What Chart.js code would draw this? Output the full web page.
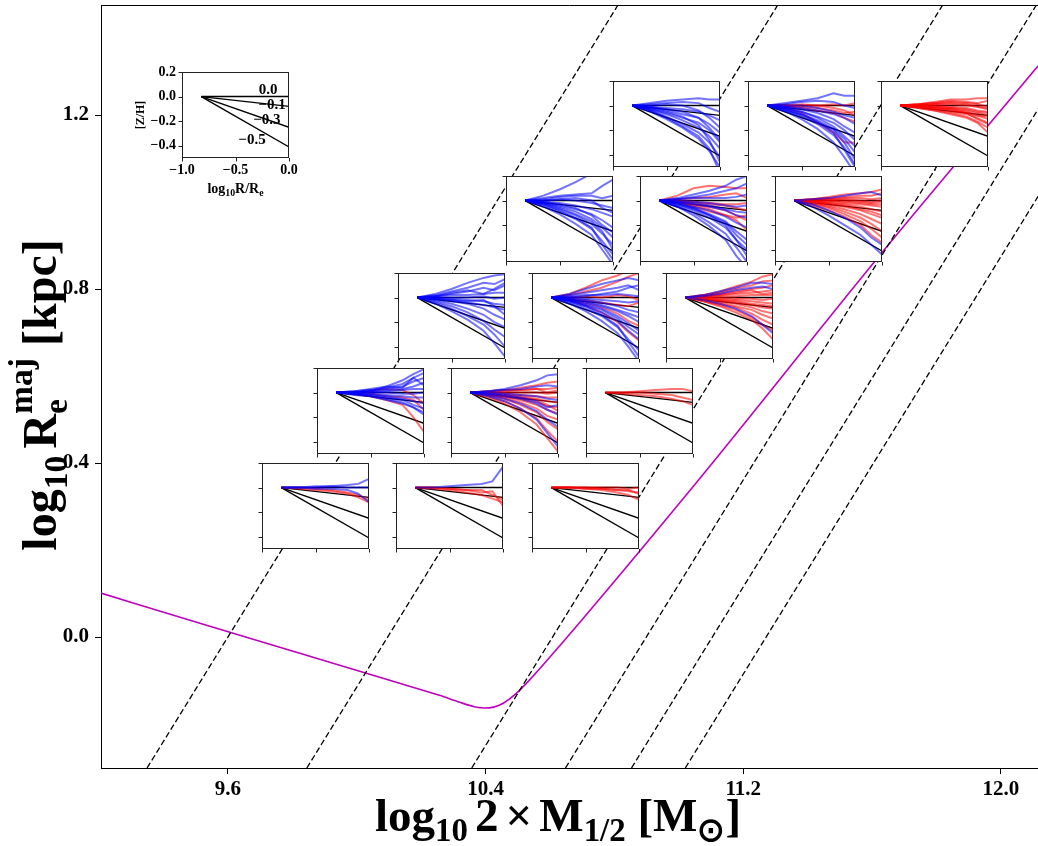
<!DOCTYPE html>
<html>
<head>
<meta charset="utf-8">
<script src="https://cdn.jsdelivr.net/npm/chart.js@4.4.0/dist/chart.umd.min.js"></script>
<style>
  body { margin: 0; background: #fff; }
  #wrap { position: relative; width: 1038px; height: 846px; }
  #wrap canvas.inset { position: absolute; }
</style>
</head>
<body>
<div id="wrap"><canvas id="main" width="1038" height="846"></canvas></div>
<script>
// main axes
const xLim = [9.206, 12.115];
const yLim = [-0.301, 1.453];
const xTicks = [9.6, 10.4, 11.2, 12.0];
const yTicks = [0.0, 0.4, 0.8, 1.2];

// dashed guide lines (x at bottom / top of the axes)
const dashBottomX = [9.349, 9.845, 10.357, 10.648, 10.853, 11.020];
const dashTopX = [10.811, 11.307, 11.819, 12.110, 12.315, 12.482];

// magenta curve
const curveX = [9.206, 9.513, 9.823, 10.133, 10.257, 10.320, 10.365, 10.397, 10.425, 10.455, 10.490, 10.536, 10.629, 11.063, 11.622, 12.115];
const curveY = [0.101, 0.032, -0.037, -0.106, -0.134, -0.150, -0.160, -0.163, -0.161, -0.152, -0.133, -0.099, -0.021, 0.363, 0.876, 1.313];

// inset panels: bin centres (mass, size)
const panelMass = [10.963, 11.380, 11.795, 10.629, 11.047, 11.464, 10.295, 10.710, 11.127, 10.042, 10.460, 10.878, 9.873, 10.288, 10.710];
const panelSize = [1.179, 1.179, 1.179, 0.960, 0.960, 0.960, 0.739, 0.739, 0.739, 0.520, 0.520, 0.520, 0.301, 0.301, 0.301];

// inset axes
const profR = [-0.82, -0.65, -0.5, -0.35, -0.2, -0.1, 0.0];
const insetXTicks = [-1.0, -0.5, 0.0];
const insetYTicks = [0.2, 0.0, -0.2, -0.4];
const refEnds = [0.0, -0.08, -0.25, -0.41];
const refLabels = ['0.0', '\u22120.1', '\u22120.3', '\u22120.5'];
const refLabelX = [-0.196, -0.159, -0.206, -0.346];
const refLabelY = [0.053, -0.069, -0.191, -0.353];

// [Z/H] profiles, values after the first point (which is 0)
const blue11 = [
  [0.02, 0.04, 0.05, 0.06, 0.05, 0.05], [0.01, 0.02, 0.03, 0.02, -0.02, -0.05],
  [-0.01, -0.02, -0.03, -0.05, -0.08, -0.12], [-0.02, -0.04, -0.07, -0.10, -0.15, -0.22],
  [-0.03, -0.06, -0.10, -0.14, -0.20, -0.30], [-0.03, -0.07, -0.12, -0.18, -0.25, -0.35],
  [-0.04, -0.09, -0.15, -0.22, -0.30, -0.42], [-0.05, -0.11, -0.18, -0.27, -0.37, -0.50],
  [-0.02, -0.05, -0.09, -0.16, -0.28, -0.46], [-0.01, -0.03, -0.05, -0.10, -0.18, -0.28],
  [0.00, 0.01, 0.00, -0.04, -0.10, -0.18], [-0.04, -0.10, -0.17, -0.25, -0.35, -0.55]
];
const red11 = [];
const blue12 = [
  [0.02, 0.04, 0.06, 0.10, 0.08, 0.08], [0.01, 0.03, 0.04, 0.03, 0.00, -0.02],
  [-0.01, -0.02, -0.04, -0.07, -0.10, -0.15], [-0.02, -0.05, -0.09, -0.14, -0.20, -0.28],
  [-0.03, -0.07, -0.12, -0.19, -0.27, -0.38], [-0.04, -0.09, -0.15, -0.24, -0.34, -0.48],
  [-0.05, -0.11, -0.19, -0.30, -0.42, -0.55], [-0.02, -0.05, -0.10, -0.17, -0.25, -0.33],
  [-0.01, -0.03, -0.06, -0.11, -0.17, -0.22], [-0.03, -0.07, -0.13, -0.22, -0.36, -0.50],
  [0.00, 0.00, -0.02, -0.05, -0.08, -0.10], [-0.04, -0.08, -0.14, -0.20, -0.30, -0.44]
];
const red12 = [
  [0.00, 0.00, 0.00, 0.01, 0.00, 0.02], [0.00, -0.01, -0.02, -0.04, -0.06, -0.05],
  [-0.02, -0.06, -0.14, -0.22, -0.30, -0.30], [0.00, -0.02, -0.04, -0.06, -0.10, -0.13],
  [0.00, 0.01, 0.00, -0.02, -0.04, -0.08]
];
const blue13 = [];
const red13 = [
  [0.01, 0.03, 0.05, 0.05, 0.06, 0.06], [0.01, 0.02, 0.04, 0.03, 0.02, 0.04],
  [0.00, 0.01, 0.01, 0.00, -0.01, -0.02], [0.00, 0.00, -0.01, -0.02, -0.04, -0.05],
  [-0.01, -0.01, -0.02, -0.04, -0.06, -0.08], [-0.01, -0.02, -0.03, -0.05, -0.08, -0.11],
  [-0.01, -0.03, -0.05, -0.07, -0.10, -0.14], [-0.02, -0.04, -0.06, -0.09, -0.13, -0.18],
  [-0.02, -0.04, -0.07, -0.10, -0.14, -0.22], [0.00, 0.01, 0.02, 0.01, -0.01, -0.03],
  [-0.01, -0.02, -0.04, -0.06, -0.08, -0.09], [0.00, -0.01, -0.02, -0.03, -0.05, -0.06],
  [0.01, 0.02, 0.03, 0.02, 0.01, -0.01], [-0.01, -0.02, -0.03, -0.06, -0.11, -0.15]
];
const blue21 = [
  [0.04, 0.09, 0.15, 0.22, 0.28, 0.32], [0.02, 0.04, 0.05, 0.06, 0.12, 0.17],
  [0.01, 0.03, 0.04, 0.04, 0.02, 0.04], [0.00, 0.01, 0.00, -0.02, -0.04, -0.06],
  [-0.01, -0.02, -0.04, -0.07, -0.10, -0.13], [-0.02, -0.04, -0.07, -0.11, -0.16, -0.22],
  [-0.02, -0.05, -0.09, -0.15, -0.22, -0.30], [-0.03, -0.07, -0.12, -0.19, -0.27, -0.36],
  [-0.04, -0.09, -0.15, -0.23, -0.33, -0.44], [-0.05, -0.11, -0.19, -0.28, -0.40, -0.52],
  [-0.03, -0.08, -0.14, -0.22, -0.36, -0.48], [-0.01, -0.03, -0.06, -0.12, -0.20, -0.26],
  [0.00, 0.01, 0.02, 0.00, -0.06, -0.10], [-0.02, -0.06, -0.11, -0.17, -0.25, -0.40]
];
const red21 = [];
const blue22 = [
  [0.02, 0.05, 0.08, 0.12, 0.17, 0.20], [0.01, 0.03, 0.05, 0.08, 0.10, 0.14],
  [0.01, 0.02, 0.02, 0.02, 0.03, 0.05], [0.00, -0.01, -0.02, -0.04, -0.05, -0.04],
  [-0.01, -0.03, -0.05, -0.08, -0.12, -0.14], [-0.02, -0.05, -0.08, -0.13, -0.18, -0.22],
  [-0.03, -0.06, -0.11, -0.17, -0.25, -0.32], [-0.04, -0.08, -0.14, -0.22, -0.32, -0.40],
  [-0.05, -0.10, -0.18, -0.27, -0.38, -0.50], [-0.05, -0.12, -0.21, -0.32, -0.45, -0.55],
  [-0.02, -0.06, -0.12, -0.20, -0.32, -0.45], [-0.01, -0.02, -0.04, -0.07, -0.09, -0.10],
  [-0.03, -0.07, -0.12, -0.18, -0.28, -0.36]
];
const red22 = [
  [0.04, 0.10, 0.12, 0.11, 0.10, 0.10], [0.01, 0.02, 0.03, 0.05, 0.06, 0.02],
  [0.00, -0.02, -0.03, -0.04, -0.06, -0.08], [-0.01, -0.03, -0.05, -0.08, -0.12, -0.16],
  [-0.01, -0.04, -0.07, -0.12, -0.16, -0.24], [0.00, -0.01, -0.02, -0.03, -0.03, -0.02],
  [-0.02, -0.05, -0.09, -0.12, -0.14, -0.12]
];
const blue23 = [
  [0.01, 0.02, 0.04, 0.06, 0.07, 0.04], [-0.05, -0.12, -0.20, -0.28, -0.36, -0.44],
  [-0.03, -0.08, -0.14, -0.22, -0.30, -0.36]
];
const red23 = [
  [0.01, 0.03, 0.05, 0.06, 0.07, 0.09], [0.01, 0.02, 0.03, 0.04, 0.04, 0.06],
  [0.00, 0.01, 0.02, 0.02, 0.01, 0.02], [0.00, 0.00, 0.00, -0.01, -0.02, -0.01],
  [-0.01, -0.01, -0.02, -0.03, -0.04, -0.05], [-0.01, -0.02, -0.03, -0.05, -0.07, -0.09],
  [-0.01, -0.03, -0.05, -0.08, -0.11, -0.14], [-0.02, -0.04, -0.07, -0.11, -0.15, -0.19],
  [-0.02, -0.05, -0.09, -0.14, -0.19, -0.25], [-0.03, -0.06, -0.11, -0.17, -0.23, -0.30],
  [-0.04, -0.08, -0.13, -0.20, -0.28, -0.34], [0.00, 0.00, -0.01, -0.02, -0.03, -0.03],
  [-0.01, -0.02, -0.04, -0.07, -0.09, -0.12], [0.01, 0.01, 0.01, 0.00, -0.01, 0.00]
];
const blue31 = [
  [0.03, 0.07, 0.12, 0.16, 0.18, 0.19], [0.02, 0.05, 0.08, 0.12, 0.11, 0.15],
  [0.01, 0.03, 0.05, 0.08, 0.06, 0.10], [0.01, 0.02, 0.02, 0.03, 0.04, 0.04],
  [0.00, 0.00, 0.00, 0.01, -0.01, 0.00], [0.00, -0.01, -0.02, -0.03, -0.05, -0.06],
  [-0.01, -0.02, -0.04, -0.06, -0.08, -0.10], [-0.01, -0.03, -0.05, -0.09, -0.14, -0.18],
  [-0.02, -0.05, -0.09, -0.14, -0.20, -0.24], [-0.03, -0.07, -0.12, -0.19, -0.26, -0.32],
  [-0.04, -0.09, -0.15, -0.22, -0.30, -0.40], [0.01, 0.04, 0.06, 0.03, 0.07, 0.12],
  [-0.01, -0.02, -0.03, -0.02, -0.07, -0.14], [-0.05, -0.11, -0.18, -0.27, -0.37, -0.48]
];
const red31 = [];
const blue32 = [
  [0.03, 0.07, 0.11, 0.14, 0.16, 0.14], [0.02, 0.04, 0.06, 0.08, 0.10, 0.06],
  [0.01, 0.02, 0.02, 0.03, 0.02, 0.01], [0.00, -0.01, -0.02, -0.03, -0.04, -0.03],
  [-0.01, -0.02, -0.04, -0.07, -0.10, -0.12], [-0.02, -0.04, -0.07, -0.11, -0.15, -0.20],
  [-0.02, -0.05, -0.09, -0.15, -0.21, -0.27], [-0.03, -0.07, -0.12, -0.19, -0.27, -0.34],
  [-0.04, -0.09, -0.15, -0.24, -0.34, -0.43], [-0.05, -0.11, -0.19, -0.29, -0.40, -0.52],
  [-0.03, -0.07, -0.14, -0.23, -0.36, -0.48], [0.00, 0.01, 0.03, 0.05, 0.08, 0.10],
  [-0.01, -0.03, -0.06, -0.10, -0.13, -0.16], [-0.02, -0.06, -0.10, -0.17, -0.24, -0.30]
];
const red32 = [
  [0.03, 0.08, 0.14, 0.18, 0.22, 0.24], [0.02, 0.05, 0.08, 0.13, 0.17, 0.20],
  [0.00, 0.01, 0.00, 0.02, 0.01, -0.02], [-0.01, -0.02, -0.04, -0.06, -0.07, -0.04],
  [-0.02, -0.04, -0.08, -0.13, -0.19, -0.23], [-0.02, -0.06, -0.12, -0.20, -0.28, -0.35]
];
const blue33 = [
  [0.02, 0.05, 0.08, 0.12, 0.12, 0.11], [-0.02, -0.05, -0.09, -0.15, -0.22, -0.29],
  [0.01, 0.03, 0.06, 0.08, 0.09, 0.07]
];
const red33 = [
  [0.02, 0.05, 0.09, 0.13, 0.17, 0.19], [0.02, 0.04, 0.07, 0.10, 0.13, 0.14],
  [0.01, 0.03, 0.05, 0.07, 0.08, 0.10], [0.01, 0.02, 0.03, 0.04, 0.05, 0.06],
  [0.00, 0.01, 0.01, 0.02, 0.02, 0.02], [0.00, 0.00, -0.01, -0.01, -0.02, -0.01],
  [0.00, -0.01, -0.02, -0.03, -0.04, -0.05], [-0.01, -0.02, -0.04, -0.06, -0.08, -0.09],
  [-0.01, -0.03, -0.05, -0.08, -0.11, -0.13], [-0.02, -0.04, -0.07, -0.10, -0.14, -0.17],
  [-0.02, -0.05, -0.08, -0.13, -0.18, -0.22], [-0.03, -0.06, -0.10, -0.16, -0.22, -0.27],
  [-0.03, -0.07, -0.12, -0.18, -0.25, -0.34], [0.01, 0.02, 0.04, 0.06, 0.03, 0.04],
  [-0.01, -0.02, -0.03, -0.05, -0.06, -0.07]
];
const blue41 = [
  [0.01, 0.03, 0.05, 0.10, 0.15, 0.19], [0.01, 0.02, 0.04, 0.07, 0.12, 0.16],
  [0.00, 0.02, 0.03, 0.05, 0.09, 0.12], [0.00, 0.01, 0.02, 0.03, 0.05, 0.08],
  [0.00, 0.00, 0.01, 0.02, 0.03, 0.03], [0.00, 0.00, 0.00, -0.01, -0.01, 0.00],
  [-0.01, -0.01, -0.02, -0.03, -0.04, -0.04], [-0.01, -0.02, -0.03, -0.05, -0.07, -0.09],
  [-0.01, -0.02, -0.04, -0.06, -0.10, -0.13], [-0.02, -0.03, -0.06, -0.09, -0.12, -0.16],
  [0.00, 0.01, 0.05, 0.04, 0.12, 0.06], [-0.01, -0.03, -0.05, -0.08, -0.12, -0.18]
];
const red41 = [
  [0.00, 0.01, 0.03, 0.02, -0.02, -0.09], [-0.01, -0.03, -0.06, -0.10, -0.20, -0.32],
  [0.00, -0.01, -0.03, -0.04, -0.06, -0.14]
];
const blue42 = [
  [0.01, 0.03, 0.06, 0.10, 0.14, 0.15], [0.01, 0.02, 0.03, 0.05, 0.06, 0.05],
  [0.00, -0.01, -0.02, -0.03, -0.05, -0.06], [-0.01, -0.03, -0.05, -0.09, -0.14, -0.18],
  [-0.02, -0.05, -0.09, -0.15, -0.22, -0.28], [-0.03, -0.07, -0.13, -0.22, -0.33, -0.44],
  [-0.01, -0.02, -0.04, -0.07, -0.12, -0.10]
];
const red42 = [
  [0.01, 0.02, 0.04, 0.06, 0.08, 0.09], [0.01, 0.02, 0.02, 0.03, 0.03, 0.04],
  [0.00, 0.00, 0.00, 0.00, -0.01, 0.00], [0.00, -0.01, -0.02, -0.03, -0.04, -0.04],
  [-0.01, -0.02, -0.03, -0.05, -0.07, -0.08], [-0.01, -0.03, -0.05, -0.08, -0.11, -0.12],
  [-0.01, -0.03, -0.06, -0.10, -0.14, -0.17], [-0.02, -0.04, -0.08, -0.13, -0.19, -0.22],
  [-0.02, -0.05, -0.10, -0.16, -0.24, -0.30], [-0.03, -0.07, -0.13, -0.21, -0.31, -0.40],
  [-0.04, -0.09, -0.16, -0.26, -0.37, -0.48], [0.00, 0.01, 0.02, 0.03, 0.00, 0.02],
  [-0.01, -0.02, -0.04, -0.06, -0.10, -0.15]
];
const blue43 = [];
const red43 = [
  [0.00, 0.01, 0.02, 0.03, 0.03, 0.01], [0.00, 0.00, -0.01, -0.02, -0.04, -0.06],
  [-0.01, -0.02, -0.03, -0.05, -0.07, -0.10]
];
const blue51 = [
  [0.00, 0.00, 0.01, 0.02, 0.03, 0.07], [0.00, -0.01, -0.01, -0.02, -0.05, -0.12],
  [0.00, 0.01, 0.01, 0.00, 0.00, 0.00]
];
const red51 = [
  [-0.01, -0.02, -0.03, -0.05, -0.08, -0.12], [0.00, -0.01, -0.02, -0.04, -0.06, -0.10]
];
const blue52 = [[0.00, 0.01, 0.02, 0.03, 0.05, 0.17]];
const red52 = [
  [0.00, -0.01, -0.02, -0.04, -0.03, -0.15], [0.00, -0.01, -0.02, -0.02, -0.06, -0.10],
  [-0.01, -0.02, -0.04, -0.06, -0.09, -0.12]
];
const blue53 = [];
const red53 = [
  [0.00, 0.00, 0.00, 0.00, -0.01, 0.00], [0.00, -0.01, -0.01, -0.02, -0.03, -0.04],
  [0.00, -0.01, -0.02, -0.04, -0.06, -0.10], [0.00, 0.00, -0.01, -0.02, -0.02, -0.05]
];

const panelBlue = [blue11, blue12, blue13, blue21, blue22, blue23, blue31, blue32, blue33, blue41, blue42, blue43, blue51, blue52, blue53];
const panelRed = [red11, red12, red13, red21, red22, red23, red31, red32, red33, red41, red42, red43, red51, red52, red53];

const SERIF = '"Liberation Serif", "Times New Roman", serif';
const BOX_W = 107, BOX_H = 86;

// draw text with sub/superscripts, centred on x
function drawRich(ctx, parts, x, y, size) {
    let total = 0;
    parts.forEach(p => {
        ctx.font = `bold ${size * (p.s || 1)}px ${SERIF}`;
        p.w = ctx.measureText(p.t).width;
        if (p.sup) {
            p.w = Math.max(p.w, ctx.measureText(p.sup).width);
        }
        total += p.w + (p.gap || 0) * size;
    });
    let cx = x - total / 2;
    ctx.textAlign = 'left';
    ctx.textBaseline = 'alphabetic';
    parts.forEach(p => {
        ctx.font = `bold ${size * (p.s || 1)}px ${SERIF}`;
        ctx.fillText(p.t, cx, y + (p.dy || 0) * size);
        if (p.sup) ctx.fillText(p.sup, cx, y + p.supDy * size);
        cx += p.w + (p.gap || 0) * size;
    });
}

// main axes decorations: top spine and axis titles
const mainDecor = {
    id: 'mainDecor',
    afterDraw(chart) {
        const ctx = chart.ctx, a = chart.chartArea;
        ctx.save();
        ctx.strokeStyle = '#000';
        ctx.lineWidth = 1;
        ctx.beginPath();
        ctx.moveTo(a.left, a.top + 0.5);
        ctx.lineTo(a.right, a.top + 0.5);
        ctx.stroke();
        ctx.fillStyle = '#000';
        drawRich(ctx, [
            { t: 'log' }, { t: '10', s: 0.7, dy: 0.22, gap: 0.15 }, { t: '2', gap: 0.15 }, { t: '\u00d7', gap: 0.15 }, { t: 'M' },
            { t: '1/2', s: 0.7, dy: 0.22, gap: 0.25 }, { t: '[M' }, { t: '\u2299', s: 0.7, dy: 0.22 }, { t: ']' }
        ], 558, 831, 47);
        ctx.translate(56, 395);
        ctx.rotate(-Math.PI / 2);
        drawRich(ctx, [
            { t: 'log' }, { t: '10', s: 0.7, dy: 0.22, gap: 0.15 }, { t: 'R' },
            { t: 'e', s: 0.7, dy: 0.22, sup: 'maj', supDy: -0.5, gap: 0.25 }, { t: '[kpc]' }
        ], 0, 0, 48);
        ctx.restore();
    }
};

const mainDatasets = [];
dashBottomX.forEach((x0, i) => {
    mainDatasets.push({
        data: [{ x: x0, y: yLim[0] }, { x: dashTopX[i], y: yLim[1] }],
        borderColor: '#000', borderWidth: 1.3, borderDash: [6, 3],
        pointRadius: 0, clip: 0
    });
});
mainDatasets.push({
    data: curveX.map((x, i) => ({ x: x, y: curveY[i] })),
    borderColor: '#bf00bf', borderWidth: 1.6, pointRadius: 0,
    cubicInterpolationMode: 'monotone', clip: 0
});

const tickFont = { family: SERIF, size: 21, weight: 'bold' };

const mainChart = new Chart(document.getElementById('main'), {
    type: 'line',
    data: { datasets: mainDatasets },
    options: {
        responsive: false,
        animation: false,
        layout: { padding: { top: 5, left: 0, right: 0, bottom: 0 } },
        plugins: { legend: { display: false }, tooltip: { enabled: false } },
        scales: {
            x: {
                type: 'linear', min: xLim[0], max: xLim[1],
                afterBuildTicks: s => { s.ticks = xTicks.map(v => ({ value: v })); },
                afterFit: s => { s.height = 78; s.paddingLeft = 0; s.paddingRight = 0; },
                ticks: { callback: v => v.toFixed(1), font: tickFont, color: '#000', padding: 3, maxRotation: 0 },
                grid: { drawOnChartArea: false, tickLength: 6, tickColor: '#000', tickWidth: 1 },
                border: { color: '#000', width: 1 }
            },
            y: {
                type: 'linear', min: yLim[0], max: yLim[1],
                afterBuildTicks: s => { s.ticks = yTicks.map(v => ({ value: v })); },
                afterFit: s => { s.width = 101; s.paddingTop = 0; s.paddingBottom = 0; },
                ticks: { callback: v => v.toFixed(1), font: tickFont, color: '#000', padding: 6 },
                grid: { drawOnChartArea: false, tickLength: 6, tickColor: '#000', tickWidth: 1 },
                border: { color: '#000', width: 1 }
            }
        }
    },
    plugins: [mainDecor]
});

// inset frame: white face, box and outward ticks
const insetFrame = {
    id: 'insetFrame',
    beforeDatasetsDraw(c) {
        const a = c.chartArea, ctx = c.ctx;
        ctx.save();
        ctx.fillStyle = '#fff';
        ctx.fillRect(a.left, a.top, a.right - a.left, a.bottom - a.top);
        ctx.restore();
    },
    afterDatasetsDraw(c) {
        const a = c.chartArea, ctx = c.ctx;
        ctx.save();
        ctx.strokeStyle = '#222';
        ctx.lineWidth = 1;
        ctx.strokeRect(a.left + 0.5, a.top + 0.5, a.right - a.left - 1, a.bottom - a.top - 1);
        ctx.beginPath();
        insetYTicks.forEach(v => {
            const py = Math.round(c.scales.y.getPixelForValue(v)) + 0.5;
            ctx.moveTo(a.left - 3.5, py);
            ctx.lineTo(a.left, py);
        });
        insetXTicks.forEach(v => {
            const px = Math.round(c.scales.x.getPixelForValue(v)) + 0.5;
            ctx.moveTo(px, a.bottom);
            ctx.lineTo(px, a.bottom + 3.5);
        });
        ctx.stroke();
        ctx.restore();
    }
};

function profileSet(vals, color) {
    return {
        data: [0, ...vals].map((y, i) => ({ x: profR[i], y: y })),
        borderColor: color, borderWidth: 2, pointRadius: 0, clip: 0
    };
}

function refSets() {
    return refEnds.map(e => ({
        data: [{ x: profR[0], y: 0 }, { x: 0, y: e }],
        borderColor: '#000', borderWidth: 1.4, pointRadius: 0, clip: 0
    }));
}

function makeInset(left, top, pad, datasets, extraPlugins) {
    const cv = document.createElement('canvas');
    cv.className = 'inset';
    cv.width = BOX_W + pad.left + pad.right;
    cv.height = BOX_H + pad.top + pad.bottom;
    cv.style.left = (left - pad.left) + 'px';
    cv.style.top = (top - pad.top) + 'px';
    document.getElementById('wrap').appendChild(cv);
    return new Chart(cv, {
        type: 'line',
        data: { datasets: datasets },
        options: {
            responsive: false,
            animation: false,
            layout: { padding: pad },
            plugins: { legend: { display: false }, tooltip: { enabled: false } },
            scales: {
                x: { type: 'linear', min: -1.0, max: 0.0, display: false },
                y: { type: 'linear', min: -0.5, max: 0.2, display: false }
            }
        },
        plugins: [insetFrame].concat(extraPlugins || [])
    });
}

// the 15 binned panels
const smallPad = { left: 6, top: 3, right: 3, bottom: 6 };
panelMass.forEach((m, i) => {
    const cx = mainChart.scales.x.getPixelForValue(m);
    const cy = mainChart.scales.y.getPixelForValue(panelSize[i]);
    const sets = []
        .concat(panelBlue[i].map(v => profileSet(v, 'rgba(0,0,255,0.55)')))
        .concat(panelRed[i].map(v => profileSet(v, 'rgba(255,0,0,0.55)')))
        .concat(refSets());
    makeInset(Math.round(cx - BOX_W / 2), Math.round(cy - BOX_H / 2), smallPad, sets);
});

// key panel in the top-left corner
const keyText = {
    id: 'keyText',
    afterDraw(c) {
        const a = c.chartArea, ctx = c.ctx;
        ctx.save();
        ctx.fillStyle = '#000';
        ctx.font = `bold 14px ${SERIF}`;
        ctx.textAlign = 'right';
        ctx.textBaseline = 'middle';
        insetYTicks.forEach(v => {
            ctx.fillText(v.toFixed(1).replace('-', '\u2212'), a.left - 6, c.scales.y.getPixelForValue(v));
        });
        ctx.textAlign = 'center';
        ctx.textBaseline = 'top';
        insetXTicks.forEach(v => {
            ctx.fillText(v.toFixed(1).replace('-', '\u2212'), c.scales.x.getPixelForValue(v), a.bottom + 5);
        });
        ctx.font = `bold 15px ${SERIF}`;
        ctx.textBaseline = 'middle';
        refLabels.forEach((t, i) => {
            ctx.fillText(t, c.scales.x.getPixelForValue(refLabelX[i]), c.scales.y.getPixelForValue(refLabelY[i]));
        });
        drawRich(ctx, [{ t: 'log' }, { t: '10', s: 0.7, dy: 0.22 }, { t: 'R/R' }, { t: 'e', s: 0.7, dy: 0.22 }],
            (a.left + a.right) / 2, a.bottom + 35, 14);
        ctx.translate(a.left - 41, (a.top + a.bottom) / 2);
        ctx.rotate(-Math.PI / 2);
        ctx.font = `bold 12px ${SERIF}`;
        ctx.textAlign = 'center';
        ctx.textBaseline = 'middle';
        ctx.fillText('[Z/H]', 0, 0);
        ctx.restore();
    }
};
makeInset(182, 72, { left: 60, top: 10, right: 20, bottom: 45 }, refSets(), [keyText]);
</script>
</body>
</html>
